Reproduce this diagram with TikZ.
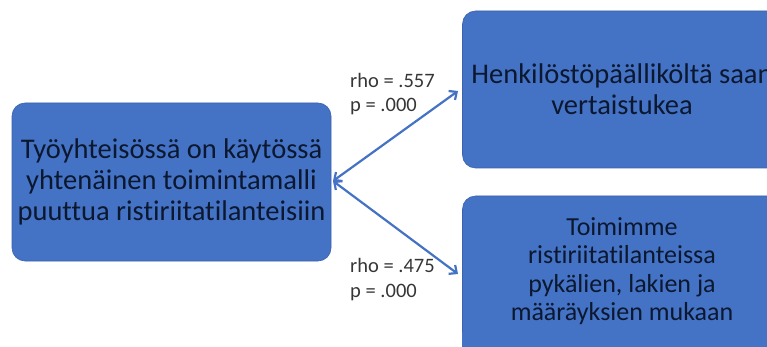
\documentclass[tikz,border=0pt]{standalone}
\usepackage{fontspec}
\setmainfont{Carlito}[Ligatures=NoCommon]
\usetikzlibrary{arrows.meta}
\definecolor{boxblue}{HTML}{4472C4}
\definecolor{boxedge}{HTML}{3A63AD}
\definecolor{ink}{HTML}{0C1830}
\definecolor{statgray}{HTML}{363636}
\begin{document}
\begin{tikzpicture}[x=1pt,y=-1pt,
  card/.style={draw=boxedge, line width=0.6pt, fill=boxblue, rounded corners=13pt,
    text=ink, align=center, inner sep=0pt, minimum width=319pt},
  bigtext/.style={font=\fontsize{28.5}{31}\selectfont},
  midtext/.style={font=\fontsize{26}{28.5}\selectfont},
  stat/.style={anchor=base west, inner sep=0pt, text=statgray,
    font=\fontsize{20.5}{24}\selectfont},
  link/.style={draw=boxblue, line width=2.2pt,
    {Straight Barb[length=6pt,width=11pt]}-{Straight Barb[length=6pt,width=11pt]}}]
\useasboundingbox (0,0) rectangle (767,347);
\begin{scope}
  \clip (0,0) rectangle (767,347);
  % source box on the left
  \node[card, bigtext, minimum height=158pt] (src) at (171.5,182)
    {Työyhteisössä on käytössä\\yhtenäinen toimintamalli\\puuttua ristiriitatilanteisiin};
  % two outcome boxes on the right, running past the page edge
  \node[card, bigtext, minimum height=157pt] (peer) at (622,89.5)
    {Henkilöstöpäälliköltä saan\\vertaistukea};
  \node[card, midtext, minimum height=150pt] (rules) at (622,271)
    {Toimimme\\ristiriitatilanteissa\\pykälien, lakien ja\\määräyksien mukaan};
  \fill[boxblue] (rules.south west) ++(0,-14) rectangle ([yshift=-20pt]rules.south east);
\end{scope}
% connector end points
\coordinate (srcend) at (333,181);
\coordinate (peerend) at (458,91);
\coordinate (rulesend) at (458,274);
\draw[link] (srcend) -- (peerend);
\draw[link] (srcend) -- (rulesend);
% correlation labels
\node[stat] (rho1) at (350,88) {rho = .557};
\node[stat] (p1) at (350,112) {p = .000};
\node[stat] (rho2) at (350,272) {rho = .475};
\node[stat] (p2) at (350,297) {p = .000};
\end{tikzpicture}
\end{document}
